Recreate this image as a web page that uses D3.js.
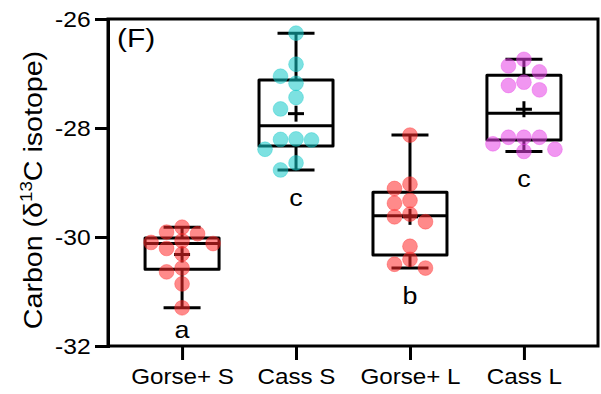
<!DOCTYPE html>
<html>
<head>
<meta charset="utf-8">
<script src="https://cdn.jsdelivr.net/npm/d3@7"></script>
<style>
  html, body { margin: 0; padding: 0; background: #fff; }
  text { font-family: "Liberation Sans", Arial, sans-serif; }
</style>
</head>
<body>
<script>
// carbon isotope box + dots, groups
const categories = ["Gorse+ S", "Cass S", "Gorse+ L", "Cass L"];

const gorseS = [-29.82, -29.91, -30.10, -30.07, -29.94, -30.12, -30.21, -30.31, -30.57, -30.64, -30.86, -31.30];
const cassS  = [-26.26, -26.83, -27.05, -27.18, -27.44, -27.65, -28.22, -28.20, -28.21, -28.39, -28.64, -28.77];
const gorseL = [-28.13, -29.11, -29.03, -29.38, -29.33, -29.58, -29.63, -29.72, -30.17, -30.41, -30.57, -30.50];
const cassL  = [-26.74, -26.86, -26.97, -27.16, -27.22, -27.30, -28.17, -28.17, -28.17, -28.29, -28.43, -28.39];

// box edges as drawn in the figure
const q3Values = [-30.02, -27.12, -29.18, -27.03];
const medians  = [-30.12, -27.96, -29.61, -27.73];
const q1Values = [-30.59, -28.33, -30.33, -28.22];

const letters = ["a", "c", "b", "c"];
const yTicks = [-26, -28, -30, -32];
const dotColors = ["#ff2a2a", "#12c8c8", "#e640e6"];

const width = 601, height = 394;
const margin = {top: 19, right: 3, bottom: 48, left: 108};
const stretch = 1.12; // the figure's type runs a bit wide

const groups = [gorseS, cassS, gorseL, cassL];
const colorOf = i => (i % 2 === 0 ? dotColors[0] : (i === 1 ? dotColors[1] : dotColors[2]));

const svg = d3.select("body").append("svg")
    .attr("width", width)
    .attr("height", height);

const x = d3.scalePoint()
    .domain(categories)
    .range([margin.left, width - margin.right])
    .padding(0.65);

const y = d3.scaleLinear()
    .domain([-32, -26])
    .range([height - margin.bottom, margin.top]);

const boxW = 74, capW = 37, r = 7.4;

// boxes first, dots go over them
groups.forEach((vals, i) => {
  const cx = x(categories[i]);
  const [lo, hi] = d3.extent(vals);
  const g = svg.append("g")
      .attr("stroke", "#000")
      .attr("stroke-width", 3)
      .attr("fill", "none");

  g.append("line").attr("x1", cx).attr("x2", cx).attr("y1", y(hi)).attr("y2", y(q3Values[i]));
  g.append("line").attr("x1", cx).attr("x2", cx).attr("y1", y(q1Values[i])).attr("y2", y(lo));
  g.append("line").attr("x1", cx - capW / 2).attr("x2", cx + capW / 2).attr("y1", y(hi)).attr("y2", y(hi));
  g.append("line").attr("x1", cx - capW / 2).attr("x2", cx + capW / 2).attr("y1", y(lo)).attr("y2", y(lo));
  g.append("rect")
      .attr("x", cx - boxW / 2)
      .attr("y", y(q3Values[i]))
      .attr("width", boxW)
      .attr("height", y(q1Values[i]) - y(q3Values[i]))
      .attr("stroke-linejoin", "round");
  g.append("line").attr("x1", cx - boxW / 2).attr("x2", cx + boxW / 2)
      .attr("y1", y(medians[i])).attr("y2", y(medians[i]));

  // mean plus
  const my = y(d3.mean(vals));
  g.append("line").attr("x1", cx - 8).attr("x2", cx + 8).attr("y1", my).attr("y2", my);
  g.append("line").attr("x1", cx).attr("x2", cx).attr("y1", my - 8).attr("y2", my + 8);
});

// simple swarm: columns every 15.5px, nearest free column wins
function swarm(vals, cx) {
  const step = 15.5, minD = 13;
  const placed = [];
  const sorted = vals.slice().sort((a, b) => b - a);
  sorted.forEach(v => {
    const py = y(v);
    for (const k of [0, -1, 1, -2, 2, -3, 3]) {
      const px = cx + k * step;
      const hit = placed.some(p => Math.hypot(p.x - px, p.y - py) < minD);
      if (!hit) { placed.push({x: px, y: py}); break; }
    }
  });
  return placed;
}

groups.forEach((vals, i) => {
  const pts = swarm(vals, x(categories[i]));
  svg.append("g").selectAll("circle")
    .data(pts)
    .join("circle")
      .attr("cx", d => d.x)
      .attr("cy", d => d.y)
      .attr("r", r)
      .attr("fill", colorOf(i))
      .attr("fill-opacity", 0.55)
      .attr("stroke", colorOf(i))
      .attr("stroke-opacity", 0.35)
      .attr("stroke-width", 1);
});

// significance letters under each group
groups.forEach((vals, i) => {
  const ly = Math.min(y(d3.min(vals)) + 36, y(-32) - 8);
  svg.append("text")
      .attr("transform", `translate(${x(categories[i])},${ly}) scale(${stretch},1)`)
      .attr("text-anchor", "middle")
      .attr("font-size", 24)
      .text(letters[i]);
});

// frame
svg.append("rect")
    .attr("x", margin.left)
    .attr("y", margin.top)
    .attr("width", width - margin.left - margin.right)
    .attr("height", height - margin.top - margin.bottom)
    .attr("fill", "none")
    .attr("stroke", "#000")
    .attr("stroke-width", 3);

const yAxis = svg.append("g")
    .attr("transform", `translate(${margin.left},0)`)
    .call(d3.axisLeft(y).tickValues(yTicks).tickSize(13).tickPadding(2.5).tickFormat(d => String(d)));
yAxis.select(".domain").attr("stroke-width", 3);
yAxis.selectAll(".tick line").attr("stroke-width", 3);
yAxis.selectAll(".tick text")
    .attr("font-size", 22)
    .attr("fill", "#000")
    .attr("transform", `scale(${stretch},1)`)
    .attr("font-family", "Liberation Sans, Arial, sans-serif");

const xAxis = svg.append("g")
    .attr("transform", `translate(0,${height - margin.bottom})`)
    .call(d3.axisBottom(x).tickSize(14).tickPadding(8));
xAxis.select(".domain").remove();
xAxis.selectAll(".tick line").attr("stroke-width", 3);
xAxis.selectAll(".tick text")
    .attr("font-size", 22)
    .attr("fill", "#000")
    .attr("transform", "scale(1.1,1)")
    .attr("font-family", "Liberation Sans, Arial, sans-serif");

// y title with superscript 13
const yt = svg.append("text")
    .attr("transform", "translate(42,190) rotate(-90) scale(1.1,1)")
    .attr("text-anchor", "middle")
    .attr("font-size", 26);
yt.append("tspan").text("Carbon (δ");
yt.append("tspan").attr("font-size", 17).attr("dy", -10).text("13");
yt.append("tspan").attr("dy", 10).text("C isotope)");

svg.append("text")
    .attr("transform", `translate(117,47) scale(1.15,1)`)
    .attr("font-size", 26)
    .text("(F)");
</script>
</body>
</html>
